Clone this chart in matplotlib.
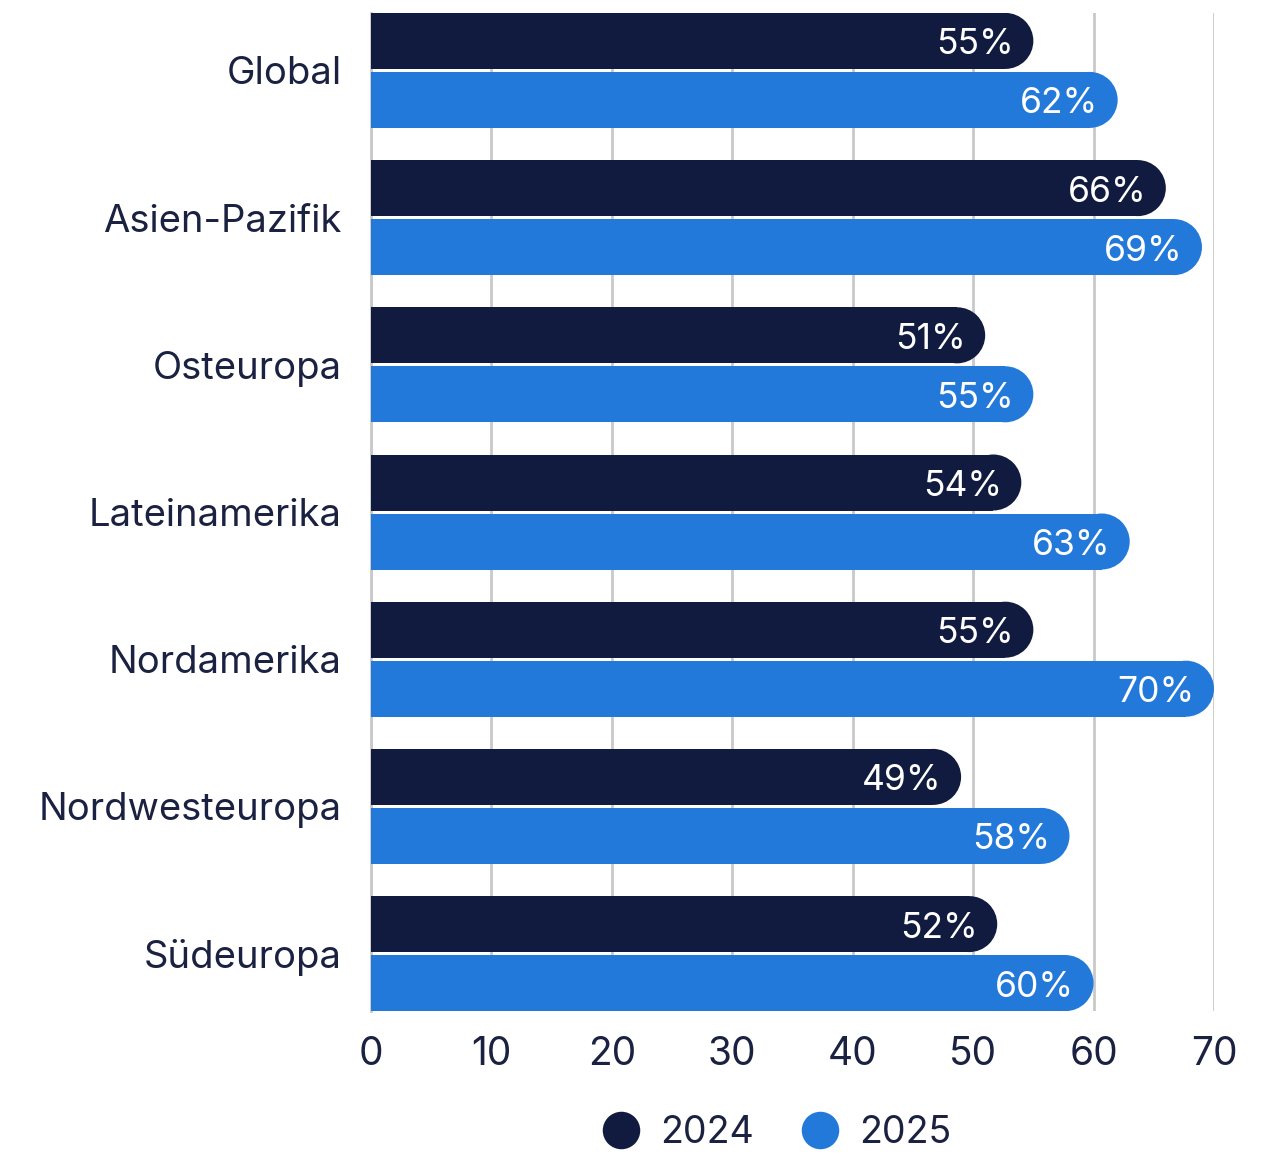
import matplotlib.pyplot as plt
from matplotlib.patches import Rectangle, Ellipse
from matplotlib.lines import Line2D

plt.rcParams['font.family'] = ['Inter', 'DejaVu Sans']

# data
regions = ['Global', 'Asien-Pazifik', 'Osteuropa', 'Lateinamerika',
           'Nordamerika', 'Nordwesteuropa', 'Südeuropa']
values_2024 = [55, 66, 51, 54, 55, 49, 52]
values_2025 = [62, 69, 55, 63, 70, 58, 60]
years = ['2024', '2025']

dark = '#111a3f'
blue = '#2379da'
text_col = '#1b2140'

fig = plt.figure(figsize=(12.79, 11.54), dpi=100)
ax = fig.add_axes([371 / 1279, 1 - 1011 / 1154, (1214 - 371) / 1279, (1011 - 13) / 1154])

xmin, xmax = 0, 70
ymin, ymax = 6.39, -0.39
ax.set_xlim(xmin, xmax)
ax.set_ylim(ymin, ymax)

# sizes in data units so the round cap is a circle on screen
bbox = ax.get_position()
ax_w_px = bbox.width * fig.get_figwidth() * fig.dpi
ax_h_px = bbox.height * fig.get_figheight() * fig.dpi
px_x = (xmax - xmin) / ax_w_px
px_y = abs(ymax - ymin) / ax_h_px

bar_h = 56 * px_y
offset = 29.5 * px_y
r_x = 28 * px_x


def rounded_bar(y, v, color):
    ax.add_patch(Rectangle((-1, y - bar_h / 2), v - r_x + 1, bar_h,
                           facecolor=color, edgecolor='none', zorder=3))
    ax.add_patch(Ellipse((v - r_x, y), 2 * r_x, bar_h,
                         facecolor=color, edgecolor='none', zorder=3))
    ax.text(v - 1.6, y + 4 * px_y, f'{v}%', color='white', fontsize=25.5,
            ha='right', va='center', zorder=4)


for i, (a, b) in enumerate(zip(values_2024, values_2025)):
    rounded_bar(i - offset, a, dark)
    rounded_bar(i + offset, b, blue)

ax.set_yticks(range(len(regions)))
ax.set_yticklabels(regions)
ax.set_xticks(range(0, 71, 10))
ax.tick_params(axis='y', length=0, pad=21, labelsize=27.5, labelcolor=text_col)
ax.tick_params(axis='x', length=0, pad=18, labelsize=28, labelcolor=text_col)

ax.grid(axis='x', color='#c9c9cc', linewidth=2, zorder=0)
ax.set_axisbelow(True)
for s in ['top', 'right', 'bottom']:
    ax.spines[s].set_visible(False)
ax.spines['left'].set_color('#c9c9cc')
ax.spines['left'].set_linewidth(2)

handles = [Line2D([], [], marker='o', linestyle='none', markersize=27,
                  markerfacecolor=c, markeredgecolor='none') for c in [dark, blue]]
fig.legend(handles, years, loc='center', bbox_to_anchor=(0.6, 0.018), ncol=2,
           frameon=False, fontsize=27, labelcolor=text_col, handletextpad=0.05,
           columnspacing=0.75)

fig.savefig('out.png', dpi=100)
